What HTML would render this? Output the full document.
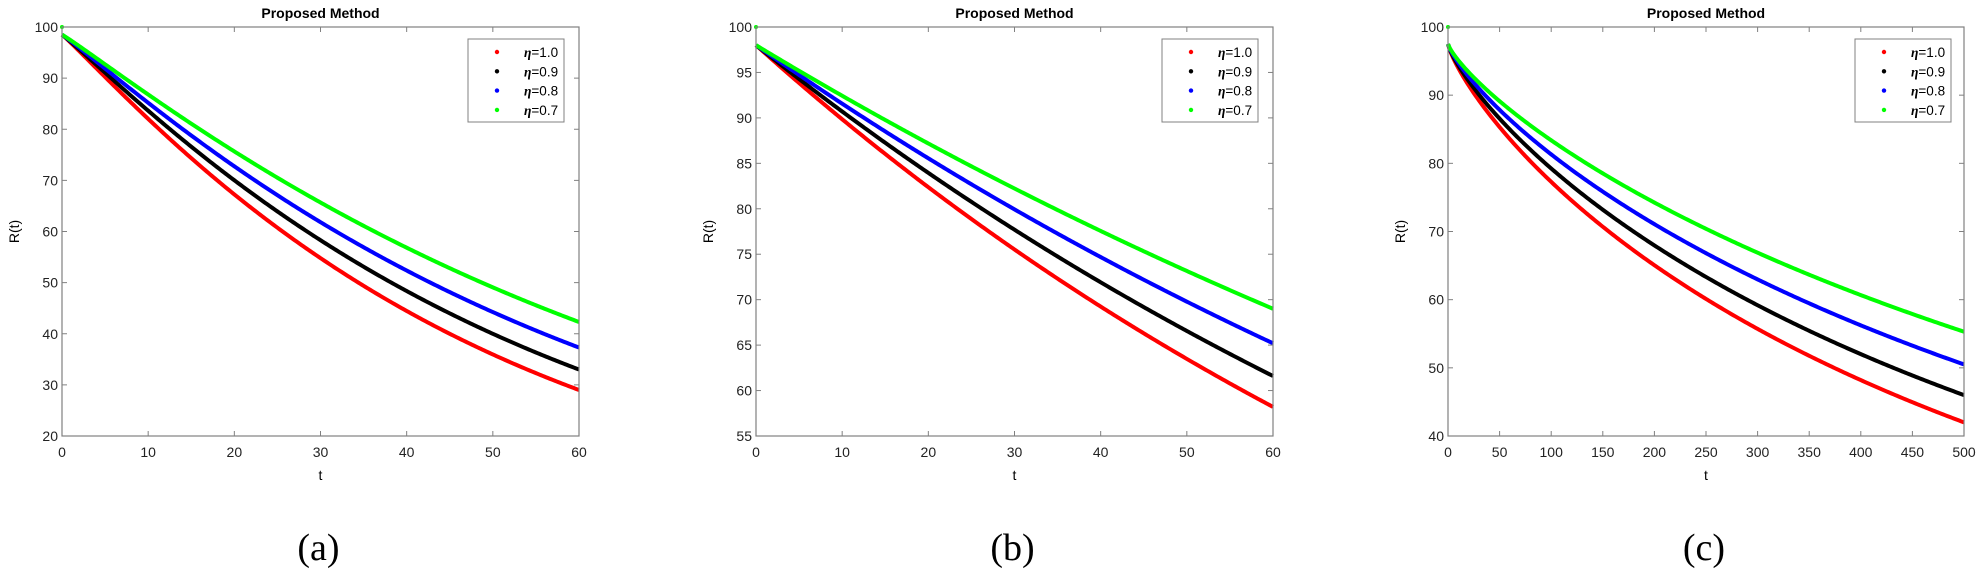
<!DOCTYPE html>
<html><head><meta charset="utf-8"><style>
html,body{margin:0;padding:0;background:#fff;}
svg{display:block;font-family:"Liberation Sans",Arial,sans-serif;}
</style></head><body>
<svg id="s" width="1982" height="578" xmlns="http://www.w3.org/2000/svg"></svg>
<script>
const S=document.getElementById('s');let h='';
const T=27,B=436;
const panels=[
 {L:62,R:579,xmax:60,xt:[0,10,20,30,40,50,60],ymin:20,ymax:100,yt:[20,30,40,50,60,70,80,90,100],A:98.5,
  e:[29,33,37.3,42.3],p:1.06,lab:'(a)',leg:468},
 {L:756,R:1273,xmax:60,xt:[0,10,20,30,40,50,60],ymin:55,ymax:100,yt:[55,60,65,70,75,80,85,90,95,100],A:98,
  e:[58.2,61.6,65.2,69],p:1.0,lab:'(b)',leg:1162},
 {L:1448,R:1964,xmax:500,xt:[0,50,100,150,200,250,300,350,400,450,500],ymin:40,ymax:100,yt:[40,50,60,70,80,90,100],A:97.5,
  e:[42,46,50.5,55.3],p:0.8,lab:'(c)',leg:1855}
];
const cols=['#ff0000','#000000','#0000ff','#00ff00'];
const names=['1.0','0.9','0.8','0.7'];
panels.forEach(p=>{
 const X=v=>p.L+(v/p.xmax)*(p.R-p.L), Y=v=>B-(v-p.ymin)/(p.ymax-p.ymin)*(B-T);
 p.e.forEach((end,i)=>{
  const pw=p.p;const k=Math.log(p.A/end)/Math.pow(p.xmax,pw);
  let d='';for(let j=0;j<=300;j++){const t=p.xmax*j/300;const r=p.A*Math.exp(-k*Math.pow(t,pw));d+=(j?'L':'M')+X(t).toFixed(2)+' '+Y(r).toFixed(2);}
  h+=`<path d="${d}" fill="none" stroke="${cols[i]}" stroke-width="4"/>`;
 });
 h+=`<circle cx="${X(0)}" cy="${Y(100)}" r="2" fill="#00ff00"/>`;
 h+=`<rect x="${p.L}" y="${T}" width="${p.R-p.L}" height="${B-T}" fill="none" stroke="#808080" stroke-width="1.2"/>`;
 p.xt.forEach(v=>{const x=X(v);h+=`<line x1="${x}" y1="${B}" x2="${x}" y2="${B-5}" stroke="#808080"/><line x1="${x}" y1="${T}" x2="${x}" y2="${T+5}" stroke="#808080"/>`;
  h+=`<text x="${x}" y="${B+21}" font-size="14" text-anchor="middle" fill="#222">${v}</text>`;});
 p.yt.forEach(v=>{const y=Y(v);h+=`<line x1="${p.L}" y1="${y}" x2="${p.L+5}" y2="${y}" stroke="#808080"/><line x1="${p.R}" y1="${y}" x2="${p.R-5}" y2="${y}" stroke="#808080"/>`;
  h+=`<text x="${p.L-4}" y="${y+5}" font-size="14" text-anchor="end" fill="#222">${v}</text>`;});
 const cx=(p.L+p.R)/2;
 h+=`<text x="${cx}" y="18" font-size="14" font-weight="bold" text-anchor="middle">Proposed Method</text>`;
 h+=`<text x="${cx}" y="480" font-size="14" text-anchor="middle">t</text>`;
 h+=`<text transform="translate(${p.L-43},${(T+B)/2}) rotate(-90)" font-size="14" text-anchor="middle">R(t)</text>`;
 h+=`<text x="${cx-2}" y="560" font-size="38" font-family="Liberation Serif,serif" text-anchor="middle">${p.lab}</text>`;
 const lx=p.leg;h+=`<rect x="${lx}" y="39" width="96" height="83" fill="#fff" stroke="#808080"/>`;
 names.forEach((n,i)=>{const y=52+i*19.3;h+=`<circle cx="${lx+29}" cy="${y}" r="2.2" fill="${cols[i]}"/>`;
  h+=`<text x="${lx+56}" y="${y+5}" font-size="13.5"><tspan font-style="italic" font-weight="bold" font-family="Liberation Serif,serif">η</tspan>=${n}</text>`;});
});
S.innerHTML=h;
</script>
</body></html>
